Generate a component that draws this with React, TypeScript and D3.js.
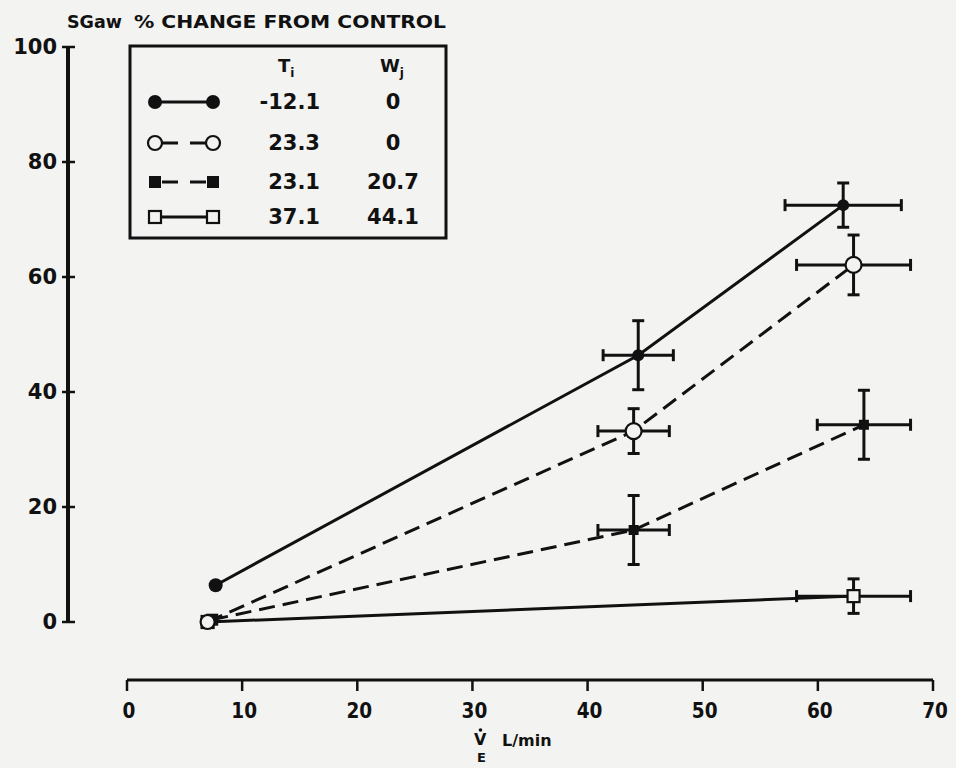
import React from 'react';
import * as d3 from 'd3';

// ---- data ----
const tiValues = ['-12.1', '23.3', '23.1', '37.1'];
const wjValues = ['0', '0', '20.7', '44.1'];
const xTicks = [0, 10, 20, 30, 40, 50, 60, 70];
const yTicks = [0, 20, 40, 60, 80, 100];

// series: V_E (L/min), SGaw % change, x error, y error
const s1X = [7.7, 44.4, 62.2];
const s1Y = [6.4, 46.4, 72.5];
const s1Xerr = [0, 3.05, 5.05];
const s1Yerr = [0, 6.0, 3.85];

const s2X = [7.0, 44.0, 63.1];
const s2Y = [0, 33.2, 62.1];
const s2Xerr = [0, 3.1, 4.95];
const s2Yerr = [0, 3.9, 5.2];

const s3X = [7.4, 44.0, 64.0];
const s3Y = [0.4, 16.0, 34.3];
const s3Xerr = [0, 3.1, 4.05];
const s3Yerr = [0, 6.0, 6.0];

const s4X = [7.0, 63.1];
const s4Y = [0, 4.5];
const s4Xerr = [0, 4.95];
const s4Yerr = [0, 3.0];

type Marker = 'filledCircle' | 'openCircle' | 'filledSquare' | 'openSquare';

const series = [
  { xs: s1X, ys: s1Y, xe: s1Xerr, ye: s1Yerr, marker: 'filledCircle' as Marker, dashed: false },
  { xs: s2X, ys: s2Y, xe: s2Xerr, ye: s2Yerr, marker: 'openCircle' as Marker, dashed: true },
  { xs: s3X, ys: s3Y, xe: s3Xerr, ye: s3Yerr, marker: 'filledSquare' as Marker, dashed: true },
  { xs: s4X, ys: s4Y, xe: s4Xerr, ye: s4Yerr, marker: 'openSquare' as Marker, dashed: false },
];
const markerOrder = [3, 2, 0, 1];

const BG = '#f3f3f2';
const INK = '#111';
const FONT = "'DejaVu Sans', 'Liberation Sans', sans-serif";

function MarkerShape({ type, cx, cy, big }: { type: Marker; cx: number; cy: number; big?: boolean }) {
  if (type === 'filledCircle') return <circle cx={cx} cy={cy} r={big ? 7 : 6} fill={INK} />;
  if (type === 'openCircle') return <circle cx={cx} cy={cy} r={big ? 7 : 8} fill={BG} stroke={INK} strokeWidth={2.2} />;
  if (type === 'filledSquare') return <rect x={cx - (big ? 6 : 5)} y={cy - (big ? 6 : 5)} width={big ? 12 : 10} height={big ? 12 : 10} fill={INK} />;
  return <rect x={cx - 6} y={cy - 6} width={12} height={12} fill={BG} stroke={INK} strokeWidth={2.2} />;
}

export default function App() {
  const W = 956, H = 768;
  const x = d3.scaleLinear().domain([0, 70]).range([127, 933]);
  const y = d3.scaleLinear().domain([0, 100]).range([622, 47]);
  const line = d3.line<[number, number]>().x(d => x(d[0])).y(d => y(d[1]));

  const legendRows = [102, 143, 182, 217];

  return (
    <svg width={W} height={H} style={{ position: 'absolute', left: 0, top: 0, background: BG }}>
      <rect x={0} y={0} width={W} height={H} fill={BG} />

      {/* title */}
      <text x={67} y={28} fontFamily={FONT} fontWeight="bold" fontSize={17} fill={INK} textLength={55} lengthAdjust="spacingAndGlyphs">SGaw</text>
      <text x={134} y={28} fontFamily={FONT} fontWeight="bold" fontSize={17} fill={INK} textLength={312} lengthAdjust="spacingAndGlyphs">% CHANGE FROM CONTROL</text>

      {/* y axis */}
      <line x1={68} x2={68} y1={y(100)} y2={y(0)} stroke={INK} strokeWidth={4} />
      {yTicks.map(t => (
        <g key={t}>
          <line x1={62} x2={75} y1={y(t)} y2={y(t)} stroke={INK} strokeWidth={2.5} />
          <text x={57} y={y(t)} dy="0.35em" textAnchor="end" fontFamily={FONT} fontWeight="bold" fontSize={21} fill={INK}>{t}</text>
        </g>
      ))}

      {/* x axis */}
      <line x1={x(0)} x2={x(70)} y1={680} y2={680} stroke={INK} strokeWidth={3} />
      {xTicks.map(t => (
        <g key={t}>
          <line x1={x(t)} x2={x(t)} y1={680} y2={691} stroke={INK} strokeWidth={2.5} />
          <text transform={`translate(${x(t) + 2},711) scale(0.88,1)`} dy="0.35em" textAnchor="middle" fontFamily={FONT} fontWeight="bold" fontSize={21} fill={INK}>{t}</text>
        </g>
      ))}
      <text x={474} y={745} fontFamily={FONT} fontWeight="bold" fontSize={16} fill={INK}>V</text>
      <circle cx={480.5} cy={730} r={1.8} fill={INK} />
      <text x={477} y={762} fontFamily={FONT} fontWeight="bold" fontSize={13} fill={INK}>E</text>
      <text x={502} y={746} fontFamily={FONT} fontWeight="bold" fontSize={16} fill={INK}>L/min</text>

      {/* lines */}
      {series.map((s, i) => (
        <path key={i}
          d={line(s.xs.map((v, j) => [v, s.ys[j]] as [number, number])) || ''}
          fill="none" stroke={INK} strokeWidth={3}
          strokeDasharray={s.dashed ? '16 8' : undefined} />
      ))}

      {/* error bars */}
      {series.map((s, i) => (
        <g key={i}>
          {s.xs.map((v, j) => {
            if (!s.xe[j] && !s.ye[j]) return null;
            const cx = x(v), cy = y(s.ys[j]);
            const x0 = x(v - s.xe[j]), x1 = x(v + s.xe[j]);
            const y0 = y(s.ys[j] + s.ye[j]), y1 = y(s.ys[j] - s.ye[j]);
            return (
              <g key={j} stroke={INK} strokeWidth={3}>
                <line x1={x0} x2={x1} y1={cy} y2={cy} />
                <line x1={x0} x2={x0} y1={cy - 6} y2={cy + 6} />
                <line x1={x1} x2={x1} y1={cy - 6} y2={cy + 6} />
                <line x1={cx} x2={cx} y1={y0} y2={y1} />
                <line x1={cx - 6} x2={cx + 6} y1={y0} y2={y0} />
                <line x1={cx - 6} x2={cx + 6} y1={y1} y2={y1} />
              </g>
            );
          })}
        </g>
      ))}

      {/* markers */}
      {markerOrder.map(i => {
        const s = series[i];
        return (
          <g key={i}>
            {s.xs.map((v, j) => (
              <MarkerShape key={j} type={s.marker} cx={x(v)} cy={y(s.ys[j])} big={j === 0} />
            ))}
          </g>
        );
      })}

      {/* legend */}
      <rect x={130} y={46} width={316} height={192} fill={BG} stroke={INK} strokeWidth={3} />
      <text x={278} y={72} fontFamily={FONT} fontWeight="bold" fontSize={18} fill={INK}>T<tspan fontSize={12} dy={5}>i</tspan></text>
      <text x={380} y={72} fontFamily={FONT} fontWeight="bold" fontSize={18} fill={INK}>W<tspan fontSize={12} dy={5}>j</tspan></text>
      {series.map((s, i) => (
        <g key={i}>
          <line x1={155} x2={213} y1={legendRows[i]} y2={legendRows[i]} stroke={INK} strokeWidth={3}
            strokeDasharray={s.dashed ? '16 12' : undefined} strokeDashoffset={s.dashed ? -7 : 0} />
          <MarkerShape type={s.marker} cx={155} cy={legendRows[i]} big />
          <MarkerShape type={s.marker} cx={213} cy={legendRows[i]} big />
          <text x={320} y={legendRows[i]} dy="0.35em" textAnchor="end" fontFamily={FONT} fontWeight="bold" fontSize={21} fill={INK}>{tiValues[i]}</text>
          <text x={393} y={legendRows[i]} dy="0.35em" textAnchor="middle" fontFamily={FONT} fontWeight="bold" fontSize={21} fill={INK}>{wjValues[i]}</text>
        </g>
      ))}
    </svg>
  );
}
